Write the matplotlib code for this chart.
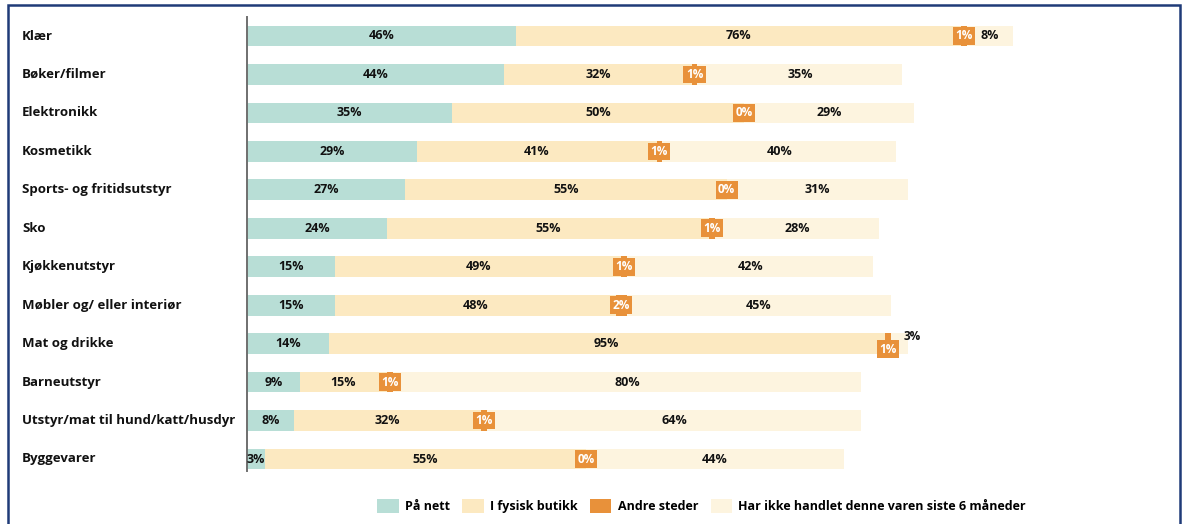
import matplotlib.pyplot as plt
from matplotlib.patches import Rectangle

plt.rcParams['font.family'] = ['Open Sans', 'DejaVu Sans']

kategorier = ['Klær', 'Bøker/filmer', 'Elektronikk', 'Kosmetikk',
              'Sports- og fritidsutstyr', 'Sko', 'Kjøkkenutstyr',
              'Møbler og/ eller interiør', 'Mat og drikke', 'Barneutstyr',
              'Utstyr/mat til hund/katt/husdyr', 'Byggevarer']
paa_nett = [46, 44, 35, 29, 27, 24, 15, 15, 14, 9, 8, 3]
fysisk = [76, 32, 50, 41, 55, 55, 49, 48, 95, 15, 32, 55]
andre = [1, 1, 0, 1, 0, 1, 1, 2, 1, 1, 1, 0]
ikke_handlet = [8, 35, 29, 40, 31, 28, 42, 45, 3, 80, 64, 44]

serier = ['På nett', 'I fysisk butikk', 'Andre steder',
          'Har ikke handlet denne varen siste 6 måneder']
farger = ['#b8ded6', '#fce9c1', '#e8913a', '#fdf4df']

fig = plt.figure(figsize=(11.83, 5.24), dpi=100)
ax = fig.add_axes([247 / 1183, 0.102, 1 - 247 / 1183, 0.866])

y = list(range(len(kategorier)))
h = 0.54
venstre = [0] * len(y)
for verdier, farge, navn in zip([paa_nett, fysisk, andre, ikke_handlet], farger, serier):
    ax.barh(y, verdier, left=venstre, height=h, color=farge, label=navn)
    for i, v in enumerate(verdier):
        midt = venstre[i] + v / 2
        if navn == 'Andre steder':
            dy = 4 if kategorier[i] == 'Mat og drikke' else 0
            ax.annotate(f'{v}%', (midt, i), xytext=(0, -dy), textcoords='offset points',
                        ha='center', va='center', color='white', fontsize=8.5,
                        fontweight='bold',
                        bbox=dict(boxstyle='square,pad=0.2', fc=farge, ec='none'))
        elif navn.startswith('Har ikke') and v < 5:
            ax.annotate(f'{v}%', (venstre[i] + v, i), xytext=(-3, 5),
                        textcoords='offset points', ha='left', va='center',
                        fontsize=8.5, fontweight='bold', color='#111111')
        else:
            ax.text(midt, i, f'{v}%', ha='center', va='center', fontsize=9,
                    fontweight='bold', color='#111111')
    venstre = [a + b for a, b in zip(venstre, verdier)]

ax.set_xlim(0, 160)
ax.set_ylim(11.3, -0.5)
ax.set_xticks([])
ax.set_yticks([])
for s in ['top', 'right', 'bottom']:
    ax.spines[s].set_visible(False)
ax.spines['left'].set_color('#6f6f6f')
ax.spines['left'].set_linewidth(1.4)

# kategorinavn venstrejustert i egen kolonne
for i, navn in enumerate(kategorier):
    fig.text(22 / 1183, 1 - (36 + i * 38.45) / 524, navn, ha='left', va='center',
             fontsize=9.5, fontweight='bold', color='#111111')

fig.legend(loc='center', bbox_to_anchor=(0.593, 0.034), ncol=4, frameon=False,
           prop={'weight': 'bold', 'size': 9}, handlelength=1.7,
           handleheight=1.3, columnspacing=1.0, handletextpad=0.5)

fig.add_artist(Rectangle((8 / 1183, -0.02), (1180 - 8) / 1183, 1 - 5 / 524 + 0.02,
                         transform=fig.transFigure, fill=False, ec='#1f3b78', lw=1.8))

fig.savefig('out.png', dpi=100)
